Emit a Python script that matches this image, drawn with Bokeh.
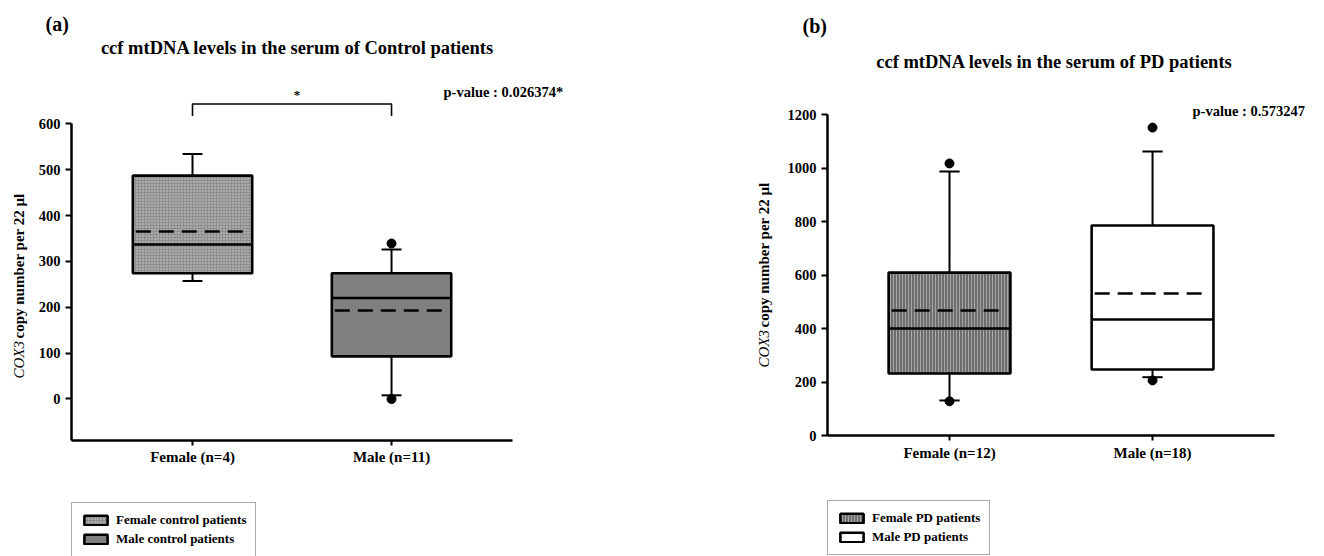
import math
from bokeh.plotting import figure
from bokeh.models import ColumnDataSource, FixedTicker, Label, Legend, LegendItem, Range1d
from bokeh.layouts import row
from bokeh.embed import file_html
from bokeh.resources import INLINE

# ---------------- data: panel (a) ----------------
title_a = "ccf mtDNA levels in the serum of Control patients"
tag_a = "(a)"
pvalue_a = "p-value : 0.026374*"
groups_a = ["Female (n=4)", "Male (n=11)"]
q1_a = [274, 93]
median_a = [337, 220]
q3_a = [487, 274]
mean_a = [365, 193]
whisker_lo_a = [257, 8]
whisker_hi_a = [534, 326]
outlier_group_a = ["Male (n=11)", "Male (n=11)"]
outlier_value_a = [339, 0]
legend_a = ["Female control patients", "Male control patients"]
yticks_a = [0, 100, 200, 300, 400, 500, 600]
signif_pair_a = ["Female (n=4)", "Male (n=11)"]
signif_level_a = [643, 617]
signif_mark_a = "*"

# ---------------- data: panel (b) ----------------
title_b = "ccf mtDNA levels in the serum of PD patients"
tag_b = "(b)"
pvalue_b = "p-value : 0.573247"
groups_b = ["Female (n=12)", "Male (n=18)"]
q1_b = [232, 247]
median_b = [400, 434]
q3_b = [609, 785]
mean_b = [467, 531]
whisker_lo_b = [131, 218]
whisker_hi_b = [987, 1062]
outlier_group_b = ["Female (n=12)", "Female (n=12)", "Male (n=18)", "Male (n=18)"]
outlier_value_b = [1017, 128, 1151, 206]
legend_b = ["Female PD patients", "Male PD patients"]
yticks_b = [0, 200, 400, 600, 800, 1000, 1200]

ylabel_italic = "COX3"
ylabel_rest = " copy number per 22 \u00b5l"

FONT = "Liberation Serif"
H = 556

styles_a = [
    dict(fill_color="#8e8e8e", hatch_pattern="dot", hatch_color="#dadada", hatch_scale=3, hatch_weight=1),
    dict(fill_color="#808080"),
]
styles_b = [
    dict(fill_color="#6e6e6e", hatch_pattern="vertical_line", hatch_color="#a6a6a6", hatch_scale=3, hatch_weight=1),
    dict(fill_color="#ffffff"),
]


def make_panel(groups, q1, med, q3, mean, lo, hi, og, ov, styles, legend_labels,
               yticks, view_x, view_y, x_axis_span, y_axis_span, fig_w, legend_loc,
               tag, tag_pos, title, title_pos, pval, pval_pos, ylab_pos):
    p = figure(width=fig_w, height=H, output_backend="svg", toolbar_location=None,
               x_range=Range1d(*view_x), y_range=Range1d(*view_y),
               min_border=0)
    p.title = None
    p.outline_line_color = None
    p.xgrid.visible = False
    p.ygrid.visible = False
    p.background_fill_color = "white"
    p.border_fill_color = "white"

    xs = [i + 1 for i in range(len(groups))]
    src = ColumnDataSource(dict(
        x=xs, q1=q1, med=med, q3=q3, mean=mean, lo=lo, hi=hi,
        x0=[x - 0.3 for x in xs], x1=[x + 0.3 for x in xs],
        cx0=[x - 0.05 for x in xs], cx1=[x + 0.05 for x in xs],
        mx0=[x - 0.285 for x in xs], mx1=[x + 0.27 for x in xs],
    ))
    # whiskers
    p.segment(x0="x", y0="q3", x1="x", y1="hi", source=src, line_color="black", line_width=2)
    p.segment(x0="x", y0="lo", x1="x", y1="q1", source=src, line_color="black", line_width=2)
    p.segment(x0="cx0", y0="hi", x1="cx1", y1="hi", source=src, line_color="black", line_width=2)
    p.segment(x0="cx0", y0="lo", x1="cx1", y1="lo", source=src, line_color="black", line_width=2)
    # boxes
    items = []
    for i, g in enumerate(groups):
        r = p.vbar(x=[xs[i]], width=0.6, bottom=[q1[i]], top=[q3[i]], line_color="black",
                   line_width=2.6, **styles[i])
        items.append(LegendItem(label=legend_labels[i], renderers=[r]))
    # median + mean
    p.segment(x0="x0", y0="med", x1="x1", y1="med", source=src, line_color="black", line_width=2.5)
    p.segment(x0="mx0", y0="mean", x1="mx1", y1="mean", source=src, line_color="black",
              line_width=2.5, line_dash="15 8")
    # outliers
    p.scatter(x=[groups.index(g) + 1 for g in og], y=ov, size=9, color="black")

    # axes, pinned inside the frame at their data positions
    for ax in (p.xaxis[0], p.yaxis[0]):
        ax.axis_line_width = 2.5
        ax.axis_line_color = "black"
        ax.major_tick_line_width = 2
        ax.major_tick_in = 0
        ax.minor_tick_line_color = None
        ax.major_label_text_font = FONT
        ax.major_label_text_font_style = "bold"
        ax.major_label_text_color = "black"
    p.xaxis.ticker = FixedTicker(ticks=xs)
    p.xaxis.major_label_overrides = {x: g for x, g in zip(xs, groups)}
    p.xaxis.major_tick_out = 5
    p.xaxis.major_label_standoff = 4
    p.xaxis.major_label_text_font_size = "15px"
    p.xaxis.bounds = x_axis_span
    p.xaxis.fixed_location = y_axis_span[0]
    p.yaxis.ticker = FixedTicker(ticks=yticks)
    p.yaxis.major_tick_out = 6
    p.yaxis.major_label_standoff = 5
    p.yaxis.major_label_text_font_size = "14.5px"
    p.yaxis.bounds = y_axis_span
    p.yaxis.fixed_location = x_axis_span[0]

    # legend
    leg = Legend(items=items, location=legend_loc, orientation="vertical",
                 border_line_color="#555555", border_line_width=1,
                 padding=9, spacing=3, margin=0,
                 glyph_width=29, glyph_height=12, label_height=15,
                 label_standoff=6,
                 label_text_font=FONT, label_text_font_style="bold",
                 label_text_color="black",
                 label_text_font_size="13px", background_fill_alpha=1)
    p.add_layout(leg, "center")

    # texts (screen units, frame = whole canvas)
    p.add_layout(Label(x=tag_pos[0], y=tag_pos[1], x_units="screen", y_units="screen",
                       text=tag, text_font=FONT, text_font_style="bold", text_font_size="20px",
                       text_color="black", text_baseline="middle", text_align="left"))
    p.add_layout(Label(x=title_pos[0], y=title_pos[1], x_units="screen", y_units="screen",
                       text=title, text_font=FONT, text_font_style="bold", text_font_size="18.5px",
                       text_color="black", text_baseline="middle", text_align="center"))
    p.add_layout(Label(x=pval_pos[0], y=pval_pos[1], x_units="screen", y_units="screen",
                       text=pval, text_font=FONT, text_font_style="bold", text_font_size="14.5px",
                       text_color="black", text_baseline="middle", text_align="left"))
    yx, yy, split = ylab_pos
    p.add_layout(Label(x=yx, y=yy, x_units="screen", y_units="screen", angle=math.pi / 2,
                       text=ylabel_italic, text_font=FONT, text_font_style="italic",
                       text_font_size="15px", text_color="black",
                       text_baseline="middle", text_align="left"))
    p.add_layout(Label(x=yx, y=yy + split, x_units="screen", y_units="screen", angle=math.pi / 2,
                       text=ylabel_rest, text_font=FONT, text_font_style="bold",
                       text_font_size="15px", text_color="black",
                       text_baseline="middle", text_align="left"))
    return p


# panel (a): 199 px per category, 0.4587 px per copy
pa = make_panel(groups_a, q1_a, median_a, q3_a, mean_a, whisker_lo_a, whisker_hi_a,
                outlier_group_a, outlier_value_a, styles_a, legend_a,
                yticks_a, (0.0352, 3.653), (-343.4, 868.8), (0.392, 2.608), (-90, 600), 720,
                (71, -1),
                tag_a, (45, 533), title_a, (297, 509), pvalue_a, (443, 465), (18, 178, 40))

sx = [groups_a.index(g) + 1 for g in signif_pair_a]
pa.line(x=[sx[0], sx[0], sx[1], sx[1]],
        y=[signif_level_a[1], signif_level_a[0], signif_level_a[0], signif_level_a[1]],
        line_color="black", line_width=1.6)
pa.add_layout(Label(x=(sx[0] + sx[1]) / 2, y=signif_level_a[0], text=signif_mark_a,
                    x_offset=5, y_offset=2, text_font=FONT, text_font_style="bold",
                    text_color="black",
                    text_font_size="13px", text_align="center", text_baseline="bottom"))

# panel (b): 203 px per category, 0.2675 px per copy
pb = make_panel(groups_b, q1_b, median_b, q3_b, mean_b, whisker_lo_b, whisker_hi_b,
                outlier_group_b, outlier_value_b, styles_b, legend_b,
                yticks_b, (-0.128, 2.847), (-452.3, 1626.2), (0.399, 2.601), (0, 1200), 604,
                (107, 1),
                tag_b, (82, 531), title_b, (334, 495), pvalue_b, (472, 446), (43, 189, 40))

layout = row(pa, pb)
open("out.html", "w").write(file_html(layout, INLINE))
